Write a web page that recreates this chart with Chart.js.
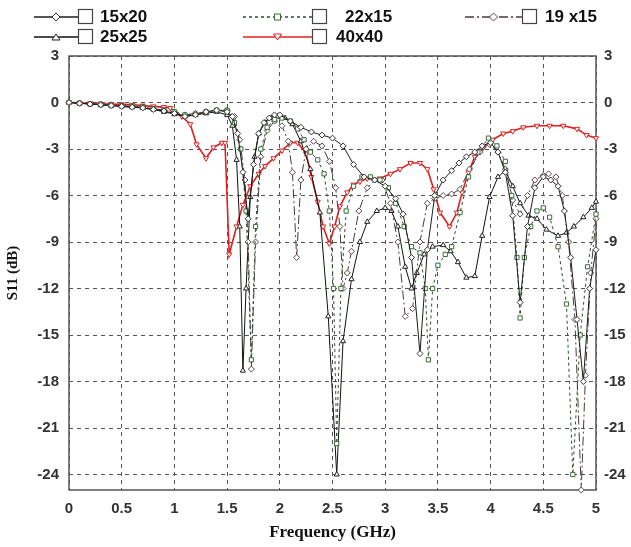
<!DOCTYPE html>
<html>
<head>
<meta charset="utf-8">
<script src="https://cdn.jsdelivr.net/npm/chart.js@4.4.0/dist/chart.umd.min.js"></script>
<style>
  body { margin: 0; background: #fff; }
  #wrap { position: relative; width: 631px; height: 547px; }
  #chart { position: absolute; left: 0; top: 0; }
  .lg-text { position: absolute; font-family: "Liberation Sans", Arial, sans-serif; font-weight: bold; font-size: 17px; color: #111; line-height: 20px; }
  .lg-svg { position: absolute; }
</style>
</head>
<body>
<div id="wrap">
  <canvas id="chart" width="631" height="547"></canvas>
  <div id="legend"></div>
</div>
<script>
// S11 sweeps, frequency in GHz, S11 in dB
const freq15x20 = [0, 0.1, 0.2, 0.3, 0.4, 0.5, 0.6, 0.7, 0.8, 0.9, 1.0, 1.1, 1.2, 1.3, 1.4, 1.5, 1.55, 1.6, 1.65, 1.7, 1.75, 1.8, 1.85, 1.9, 1.95, 2.0, 2.1, 2.2, 2.3, 2.4, 2.5, 2.6, 2.7, 2.8, 2.9, 3.0, 3.1, 3.17, 3.25, 3.33, 3.4, 3.47, 3.55, 3.63, 3.7, 3.77, 3.85, 3.92, 4.0, 4.07, 4.14, 4.21, 4.28, 4.35, 4.42, 4.5, 4.57, 4.64, 4.7, 4.76, 4.82, 4.88, 4.94, 5.0];
const s11_15x20 = [0, -0.05, -0.1, -0.15, -0.2, -0.25, -0.3, -0.35, -0.45, -0.55, -0.7, -0.9, -0.8, -0.6, -0.5, -0.6, -0.9, -2.0, -4.5, -7.5, -4.0, -2.0, -1.3, -1.0, -0.8, -0.8, -1.2, -1.6, -1.9, -2.1, -2.3, -2.8, -4.0, -4.8, -5.0, -5.4, -6.2, -7.2, -10.0, -16.2, -9.5, -6.0, -5.0, -4.4, -3.9, -3.5, -3.2, -2.8, -2.6, -3.2, -4.5, -7.3, -12.9, -8.0, -5.5, -4.8, -5.0, -5.4, -7.0, -10.0, -14.0, -18.0, -12.0, -9.5];

const freq22x15 = [0, 0.1, 0.2, 0.3, 0.4, 0.5, 0.6, 0.7, 0.8, 0.9, 1.0, 1.1, 1.2, 1.3, 1.4, 1.5, 1.57, 1.63, 1.68, 1.73, 1.77, 1.82, 1.88, 1.95, 2.02, 2.1, 2.17, 2.23, 2.29, 2.36, 2.42, 2.47, 2.51, 2.54, 2.58, 2.63, 2.7, 2.78, 2.86, 2.95, 3.03, 3.1, 3.18, 3.25, 3.33, 3.38, 3.41, 3.45, 3.5, 3.57, 3.63, 3.71, 3.79, 3.88, 3.98, 4.06, 4.14, 4.2, 4.25, 4.28, 4.32, 4.38, 4.44, 4.5, 4.56, 4.64, 4.72, 4.78, 4.85, 4.92, 5.0];
const s11_22x15 = [0, -0.05, -0.1, -0.15, -0.2, -0.2, -0.25, -0.3, -0.4, -0.5, -0.6, -0.8, -0.75, -0.6, -0.5, -0.5, -1.3, -3.0, -7.0, -16.6, -8.0, -3.0, -1.6, -1.1, -1.0, -1.2, -1.7, -2.4, -3.2, -3.7, -4.6, -7.0, -12.0, -22.0, -12.0, -7.0, -5.4, -4.8, -4.8, -5.0, -5.5, -6.5, -8.0, -9.3, -9.7, -12.0, -16.6, -12.0, -10.5, -9.8, -9.3, -7.1, -4.8, -3.2, -2.3, -2.8, -3.8, -6.0, -10.0, -13.9, -10.0, -8.0, -7.0, -6.8, -7.4, -9.3, -13.0, -24.0, -15.0, -10.6, -7.2];

const freq19x15 = [0, 0.1, 0.2, 0.3, 0.4, 0.5, 0.6, 0.7, 0.8, 0.9, 1.0, 1.1, 1.2, 1.3, 1.4, 1.5, 1.57, 1.62, 1.67, 1.7, 1.73, 1.77, 1.82, 1.88, 1.95, 2.02, 2.08, 2.12, 2.16, 2.2, 2.25, 2.32, 2.4, 2.47, 2.53, 2.57, 2.6, 2.64, 2.68, 2.75, 2.83, 2.9, 2.97, 3.05, 3.12, 3.19, 3.26, 3.33, 3.4, 3.47, 3.55, 3.63, 3.71, 3.8, 3.9, 3.99, 4.07, 4.14, 4.21, 4.28, 4.35, 4.42, 4.5, 4.55, 4.62, 4.68, 4.74, 4.8, 4.86, 4.9, 4.95, 5.0];
const s11_19x15 = [0, -0.05, -0.1, -0.1, -0.15, -0.2, -0.25, -0.3, -0.4, -0.5, -0.6, -0.8, -0.7, -0.6, -0.5, -0.5, -0.9, -2.4, -5.0, -9.0, -17.2, -9.0, -3.5, -1.8, -1.2, -1.5, -2.5, -4.5, -10.0, -5.0, -3.0, -2.5, -2.8, -3.8, -5.5, -8.0, -12.0, -11.0, -9.6, -7.0, -5.5, -5.0, -5.0, -6.5, -9.0, -13.8, -13.3, -9.0, -6.5, -6.2, -6.0, -5.9, -5.6, -4.3, -3.2, -2.7, -3.2, -4.3, -6.3, -7.2, -6.0, -5.0, -4.7, -4.6, -4.8, -6.0, -9.0, -14.0, -25.0, -17.6, -11.0, -7.5];

const freq25x25 = [0, 0.1, 0.2, 0.3, 0.4, 0.5, 0.6, 0.7, 0.8, 0.9, 1.0, 1.1, 1.2, 1.3, 1.4, 1.5, 1.55, 1.59, 1.62, 1.65, 1.68, 1.72, 1.76, 1.8, 1.86, 1.92, 1.98, 2.05, 2.12, 2.2, 2.29, 2.38, 2.46, 2.54, 2.6, 2.68, 2.76, 2.83, 2.92, 3.0, 3.06, 3.12, 3.19, 3.25, 3.3, 3.37, 3.45, 3.55, 3.62, 3.69, 3.77, 3.85, 3.92, 3.99, 4.07, 4.14, 4.21, 4.28, 4.36, 4.44, 4.53, 4.64, 4.72, 4.79, 4.88, 4.96, 5.0];
const s11_25x25 = [0, -0.05, -0.1, -0.15, -0.2, -0.25, -0.3, -0.35, -0.45, -0.6, -0.75, -0.9, -0.8, -0.7, -0.6, -0.8, -1.5, -3.7, -8.0, -17.3, -12.0, -6.1, -3.5, -2.0, -1.3, -1.0, -0.9, -1.0, -1.4, -2.5, -4.3, -7.1, -13.8, -24.0, -15.4, -11.4, -9.0, -7.7, -7.0, -6.8, -7.0, -8.0, -10.6, -12.0, -11.0, -9.8, -9.3, -9.2, -9.6, -10.3, -11.3, -11.2, -8.6, -6.1, -4.8, -4.4, -5.4, -6.5, -7.3, -7.5, -8.2, -8.6, -8.4, -8.0, -7.4, -6.8, -6.4];

const freq40x40 = [0, 0.1, 0.2, 0.3, 0.4, 0.5, 0.6, 0.7, 0.8, 0.9, 0.96, 1.07, 1.15, 1.21, 1.3, 1.37, 1.45, 1.48, 1.52, 1.59, 1.65, 1.72, 1.8, 1.86, 1.94, 2.02, 2.1, 2.17, 2.25, 2.3, 2.36, 2.41, 2.47, 2.52, 2.57, 2.64, 2.7, 2.76, 2.83, 2.95, 3.05, 3.14, 3.24, 3.33, 3.4, 3.46, 3.52, 3.61, 3.68, 3.73, 3.79, 3.85, 3.93, 4.02, 4.12, 4.21, 4.31, 4.44, 4.56, 4.69, 4.82, 4.91, 5.0];
const s11_40x40 = [0, -0.02, -0.05, -0.08, -0.1, -0.12, -0.15, -0.2, -0.25, -0.3, -0.35, -0.9, -1.4, -2.7, -3.6, -2.9, -2.6, -2.6, -9.8, -8.0, -6.6, -5.4, -4.6, -4.1, -3.6, -3.1, -2.6, -2.6, -3.3, -4.8, -6.4, -8.0, -9.1, -8.0, -6.7, -5.8, -5.3, -5.1, -4.9, -4.9, -4.6, -4.3, -3.9, -3.9, -4.3, -5.6, -7.1, -8.0, -7.1, -5.8, -4.5, -3.5, -2.9, -2.4, -2.0, -1.85, -1.6, -1.5, -1.5, -1.5, -1.7, -2.1, -2.3];

const seriesNames = ['15x20', '22x15', '19 x15', '25x25', '40x40'];
const yTicks = [3, 0, -3, -6, -9, -12, -15, -18, -21, -24];

function pts(f, v) {
    return f.map((x, i) => ({ x: x, y: v[i] }));
}

// line / marker look of each curve
const styles = [
    { color: '#1c1c1c', marker: '#333', dash: [], point: 'rectRot', rot: 0, width: 1 },
    { color: '#2e4f2e', marker: '#3d6b3d', dash: [3, 3], point: 'rect', rot: 0, width: 1 },
    { color: '#4a3b3b', marker: '#5a4848', dash: [9, 3, 2, 3], point: 'rectRot', rot: 0, width: 1 },
    { color: '#111', marker: '#222', dash: [], point: 'triangle', rot: 0, width: 1 },
    { color: '#e02020', marker: '#e02020', dash: [], point: 'triangle', rot: 180, width: 1.6 }
];

const allData = [
    pts(freq15x20, s11_15x20),
    pts(freq22x15, s11_22x15),
    pts(freq19x15, s11_19x15),
    pts(freq25x25, s11_25x25),
    pts(freq40x40, s11_40x40)
];

const datasets = allData.map((d, i) => ({
    label: seriesNames[i],
    data: d,
    borderColor: styles[i].color,
    borderWidth: styles[i].width,
    borderDash: styles[i].dash,
    pointStyle: styles[i].point,
    rotation: styles[i].rot,
    pointRadius: 3,
    pointBorderWidth: 1,
    pointBorderColor: styles[i].marker,
    pointBackgroundColor: '#fff',
    tension: 0,
    clip: false
}));

const tickFont = { family: 'Liberation Sans', weight: 'bold', size: 15 };

const framePlugin = {
    id: 'frame',
    beforeDatasetsDraw(chart) {
        const a = chart.chartArea;
        const c = chart.ctx;
        c.save();
        c.strokeStyle = '#555';
        c.lineWidth = 1.5;
        c.strokeRect(a.left, a.top, a.right - a.left, a.bottom - a.top);
        c.restore();
    }
};

const ctx = document.getElementById('chart').getContext('2d');
new Chart(ctx, {
    type: 'line',
    data: { datasets: datasets },
    options: {
        responsive: false,
        animation: false,
        devicePixelRatio: 1,
        layout: { padding: { top: 56, left: 0, right: 0, bottom: 0 } },
        plugins: { legend: { display: false }, tooltip: { enabled: false } },
        scales: {
            x: {
                type: 'linear', min: 0, max: 5,
                ticks: { stepSize: 0.5, color: '#333', font: tickFont, padding: 10, maxRotation: 0, callback: v => String(v) },
                grid: { color: '#555', lineWidth: 1, drawTicks: false },
                border: { display: false, dash: [4, 4] },
                title: { display: true, text: 'Frequency (GHz)', color: '#111', font: { family: 'Liberation Serif', weight: 'bold', size: 17 }, padding: { top: 2 } },
                afterFit(s) { s.height = 57; }
            },
            y: {
                min: -25, max: 3,
                afterBuildTicks(s) { s.ticks = yTicks.map(v => ({ value: v })); },
                ticks: { color: '#333', font: tickFont, padding: 10 },
                grid: { color: '#555', lineWidth: 1, drawTicks: false },
                border: { display: false, dash: [4, 4] },
                title: { display: true, text: 'S11 (dB)', color: '#111', font: { family: 'Liberation Serif', weight: 'bold', size: 15 }, padding: { top: 4, bottom: 0 } },
                afterFit(s) { s.width = 69; }
            },
            y2: {
                position: 'right', min: -25, max: 3,
                afterBuildTicks(s) { s.ticks = yTicks.map(v => ({ value: v })); },
                ticks: { color: '#333', font: tickFont, padding: 8 },
                grid: { display: false, drawTicks: false },
                border: { display: false },
                afterFit(s) { s.width = 35; }
            }
        }
    },
    plugins: [framePlugin]
});

// legend: sample line + marker + check box, then the label as text
const legendPos = [
    { x: 34, y: 17, boxX: 78, textX: 100 },
    { x: 243, y: 17, boxX: 312, textX: 345 },
    { x: 465, y: 17, boxX: 522, textX: 545 },
    { x: 34, y: 37, boxX: 78, textX: 100 },
    { x: 243, y: 37, boxX: 312, textX: 336 }
];

const legend = document.getElementById('legend');
legendPos.forEach((p, i) => {
    const st = styles[i];
    const w = p.boxX - p.x + 16;
    const mx = (p.boxX - p.x) / 2;
    let marker = '';
    if (st.point === 'rectRot') {
        marker = `<polygon points="${mx},5 ${mx + 4},9 ${mx},13 ${mx - 4},9" fill="#fff" stroke="${st.marker}"/>`;
    } else if (st.point === 'rect') {
        marker = `<rect x="${mx - 3}" y="6" width="6" height="6" fill="#fff" stroke="${st.marker}"/>`;
    } else if (st.rot === 180) {
        marker = `<polygon points="${mx - 4},6 ${mx + 4},6 ${mx},12" fill="#fff" stroke="${st.marker}"/>`;
    } else {
        marker = `<polygon points="${mx - 4},12 ${mx + 4},12 ${mx},6" fill="#fff" stroke="${st.marker}"/>`;
    }
    const dash = st.dash.length ? st.dash.join(',') : 'none';
    const svg = `<svg class="lg-svg" style="left:${p.x}px;top:${p.y - 9}px" width="${w}" height="18">
        <line x1="0" y1="9" x2="${p.boxX - p.x}" y2="9" stroke="${st.color}" stroke-width="1.3" stroke-dasharray="${dash}"/>
        ${marker}
        <rect x="${p.boxX - p.x + 0.5}" y="1.5" width="14" height="14" fill="#fff" stroke="#444" stroke-width="1.2"/>
    </svg>`;
    legend.insertAdjacentHTML('beforeend', svg);
    legend.insertAdjacentHTML('beforeend', `<div class="lg-text" style="left:${p.textX}px;top:${p.y - 10}px">${seriesNames[i]}</div>`);
});
</script>
</body>
</html>
